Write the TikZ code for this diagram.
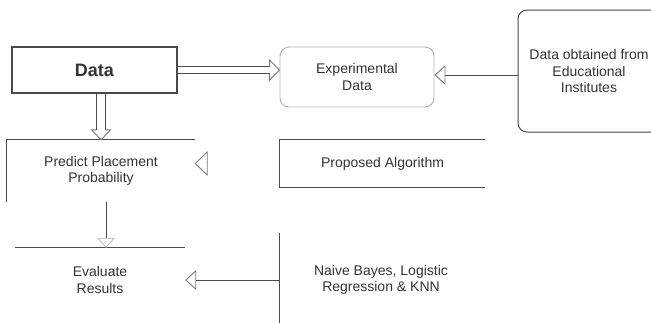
\documentclass[tikz,border=0pt]{standalone}
\usepackage{fontspec}
\setmainfont{Liberation Sans}
\usetikzlibrary{arrows.meta,calc}
\definecolor{ink}{HTML}{333333}
\definecolor{edge}{HTML}{4A4A4A}
\definecolor{headc}{HTML}{7A7A7A}
\begin{document}
\begin{tikzpicture}[x=1pt,y=-1pt,
  lbl/.style={font=\fontsize{14}{16.5}\selectfont, text=ink, align=center, inner sep=0pt},
  edgeline/.style={draw=edge, line width=1pt},
  headline/.style={draw=headc, line width=0.9pt, line join=miter},
  openhead/.style={draw=edge, line width=1pt,
    -{Triangle[open, length=11pt, width=20pt, line width=0.9pt, color=headc]}}]
\useasboundingbox (0,0) rectangle (651,322);

% boxes and labels
\node[lbl, draw=edge, line width=1.1pt, minimum width=165pt, minimum height=46pt,
      font=\fontsize{18}{21}\selectfont\bfseries] (data) at (94.5,70) {Data};
\node[lbl, draw=gray!60, line width=0.9pt, rounded corners=9pt,
      minimum width=154pt, minimum height=60pt] (exp) at (357,77) {Experimental\\Data};
\node[lbl, draw=edge, line width=1pt, rounded corners=9pt,
      minimum width=142pt, minimum height=122pt] (src) at (589,71)
      {Data obtained from\\Educational\\Institutes};

\node[lbl, minimum width=188pt, minimum height=62pt] (pred) at (101,171)
      {Predict Placement\\Probability};
\draw[edgeline] (pred.north east) -- (pred.north west) -- (pred.south west);

\node[lbl, minimum width=205pt, minimum height=47pt] (algo) at (382.5,163.5)
      {Proposed Algorithm};
\draw[edgeline] (algo.north east) -- (algo.north west) -- (algo.south west) -- (algo.south east);

\node[lbl, minimum width=170pt, minimum height=64pt] (eval) at (100,280)
      {Evaluate\\Results};
\draw[edgeline] (eval.north west) -- (eval.north east);

\node[lbl, minimum width=202pt, minimum height=94pt] (nb) at (381,280)
      {Naive Bayes, Logistic\\Regression \& KNN};
\draw[edgeline] (nb.north west) -- (nb.south west);

% hollow double arrow: Data -> Experimental Data
\coordinate (dtip) at (exp.west |- data.east);
\draw[edgeline] ($(data.east)+(0,-3.5)$) -- ($(dtip)+(-10,-3.5)$);
\draw[edgeline] ($(data.east)+(0,3.5)$) -- ($(dtip)+(-10,3.5)$);
\draw[headline] ($(dtip)+(-10,-3.5)$) -- ($(dtip)+(-10,-10)$) -- (dtip)
      -- ($(dtip)+(-10,10)$) -- ($(dtip)+(-10,3.5)$);

% hollow double arrow: Data -> Predict Placement Probability
\coordinate (ptip) at (pred.north);
\coordinate (pbase) at (ptip |- data.south);
\draw[edgeline] ($(pbase)+(-4.5,0)$) -- ($(ptip)+(-4.5,-10)$);
\draw[edgeline] ($(pbase)+(4.5,0)$) -- ($(ptip)+(4.5,-10)$);
\draw[headline] ($(ptip)+(-4.5,-10)$) -- ($(ptip)+(-9.5,-10)$) -- (ptip)
      -- ($(ptip)+(9.5,-10)$) -- ($(ptip)+(4.5,-10)$);

% single connectors
\draw[openhead] ($(src.west)+(0,4)$) -- (exp.east |- {$(src.west)+(0,4)$});
\draw[openhead] (nb.west) -- (eval.east);
\coordinate (pe) at ($(pred.south)+(5,0)$);
\draw[draw=edge, line width=1pt,
      -{Triangle[open, length=10pt, width=18pt, line width=0.8pt, color=gray!55]}]
      (pe) -- (pe |- eval.north);

% open arrowhead at the right side of Predict Placement Probability
\coordinate (atip) at (pred.east |- algo.west);
\draw[headline] ($(atip)+(12,-11.5)$) -- (atip) -- ($(atip)+(12,11.5)$) -- cycle;
\end{tikzpicture}
\end{document}
